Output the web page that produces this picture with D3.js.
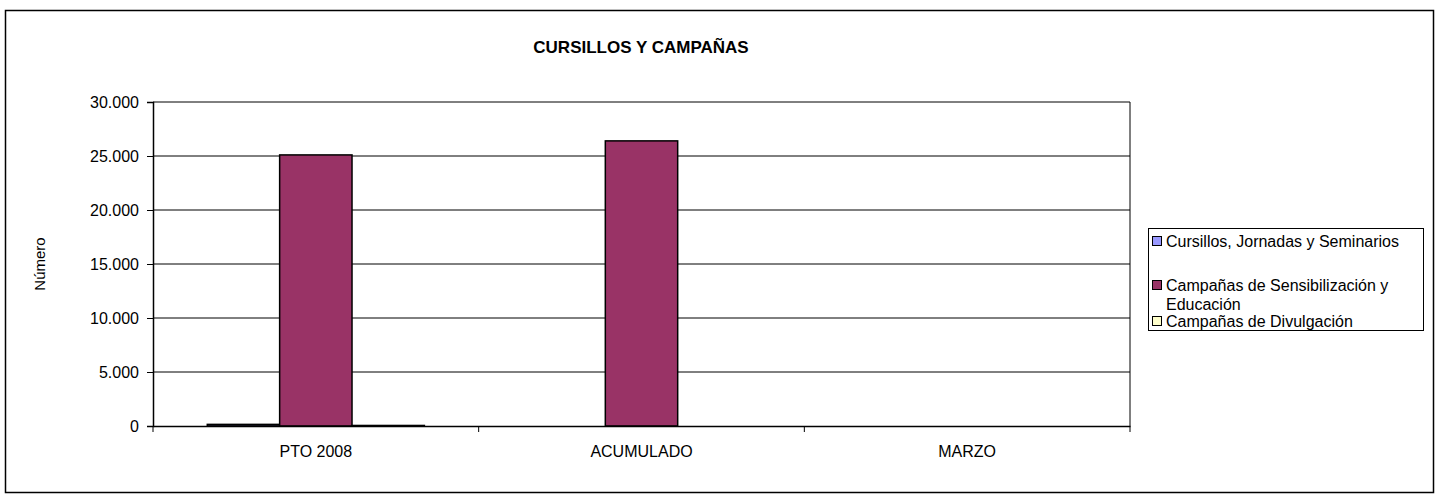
<!DOCTYPE html>
<html>
<head>
<meta charset="utf-8">
<script src="https://cdn.jsdelivr.net/npm/d3@7"></script>
<style>
  body { margin: 0; background: #fff; }
  svg { font-family: "Liberation Sans", Arial, sans-serif; }
</style>
</head>
<body>
<svg id="chart" width="1440" height="502"></svg>
<script>
const categories = ["PTO 2008", "ACUMULADO", "MARZO"];
const seriesNames = [
  "Cursillos, Jornadas y Seminarios",
  "Campañas de Sensibilización y Educación",
  "Campañas de Divulgación"
];
const cursillos = [150, 0, 0];
const sensibilizacion = [25100, 26400, 0];
const divulgacion = [50, 0, 0];
const seriesColors = ["#9999FF", "#993366", "#FFFFCC"];
const yTicks = [0, 5000, 10000, 15000, 20000, 25000, 30000];

const svg = d3.select("#chart");
const margin = { left: 153, top: 102, right: 1130, bottom: 426 };

// outer frame
svg.append("rect")
  .attr("x", 5.5).attr("y", 10.5)
  .attr("width", 1428).attr("height", 482)
  .attr("fill", "#fff").attr("stroke", "#000").attr("stroke-width", 1.5);

svg.append("text")
  .attr("x", 641).attr("y", 53)
  .attr("text-anchor", "middle")
  .attr("font-size", 17).attr("font-weight", "bold")
  .text("CURSILLOS Y CAMPAÑAS");

const x = d3.scaleBand().domain(categories).range([margin.left, margin.right]);
const inner = d3.scaleBand().domain(d3.range(3))
  .range([0, x.bandwidth()]).paddingOuter(0.75);
const y = d3.scaleLinear().domain([0, 30000]).range([margin.bottom, margin.top]);

// gridlines
svg.append("g").selectAll("line")
  .data(yTicks.slice(1))
  .join("line")
  .attr("x1", margin.left).attr("x2", margin.right)
  .attr("y1", d => y(d)).attr("y2", d => y(d))
  .attr("stroke", "#000").attr("stroke-width", 1);

svg.append("line")
  .attr("x1", margin.right).attr("x2", margin.right)
  .attr("y1", margin.top).attr("y2", margin.bottom)
  .attr("stroke", "#000");

// bars
const data = [cursillos, sensibilizacion, divulgacion];
categories.forEach((c, ci) => {
  data.forEach((vals, si) => {
    const v = vals[ci];
    svg.append("rect")
      .attr("x", x(c) + inner(si))
      .attr("y", y(v))
      .attr("width", inner.bandwidth())
      .attr("height", margin.bottom - y(v))
      .attr("fill", seriesColors[si])
      .attr("stroke", "#000").attr("stroke-width", 1.5);
  });
});

// y axis
const yAxis = svg.append("g")
  .attr("transform", `translate(${margin.left},0)`)
  .call(d3.axisLeft(y).tickValues(yTicks).tickSize(6).tickPadding(8)
    .tickFormat(d => d3.format(",")(d).replace(/,/g, ".")));
yAxis.selectAll("text").attr("font-size", 16).attr("fill", "#000")
  .attr("font-family", "Liberation Sans, Arial, sans-serif");
yAxis.selectAll("line").attr("stroke", "#000");
yAxis.select(".domain").attr("stroke", "#000").attr("stroke-width", 1.5);

// x axis
const xAxis = svg.append("g")
  .attr("transform", `translate(0,${margin.bottom})`)
  .call(d3.axisBottom(x).tickSize(0).tickPadding(20));
xAxis.selectAll("text").attr("font-size", 16).attr("fill", "#000")
  .attr("font-family", "Liberation Sans, Arial, sans-serif");
xAxis.select(".domain").attr("stroke", "#000").attr("stroke-width", 1.5);
xAxis.selectAll(".sep")
  .data([margin.left, ...categories.map(c => x(c) + x.bandwidth())])
  .join("line")
  .attr("class", "sep")
  .attr("x1", d => d).attr("x2", d => d)
  .attr("y1", 0).attr("y2", 6)
  .attr("stroke", "#000");

svg.append("text")
  .attr("transform", "translate(45,264) rotate(-90)")
  .attr("text-anchor", "middle")
  .attr("font-size", 15)
  .text("Número");

// legend
const lg = svg.append("g");
lg.append("rect")
  .attr("x", 1148.5).attr("y", 228.5)
  .attr("width", 275).attr("height", 102)
  .attr("fill", "#fff").attr("stroke", "#000");
const legendRows = [
  { lines: [seriesNames[0]], y: 241 },
  { lines: ["Campañas de Sensibilización y", "Educación"], y: 285 },
  { lines: [seriesNames[2]], y: 321 }
];
legendRows.forEach((r, i) => {
  lg.append("rect")
    .attr("x", 1152.5).attr("y", r.y - 4.5)
    .attr("width", 9).attr("height", 9)
    .attr("fill", seriesColors[i]).attr("stroke", "#000");
  r.lines.forEach((t, li) => {
    lg.append("text")
      .attr("x", 1166).attr("y", r.y + 6 + li * 18.5)
      .attr("font-size", 16)
      .text(t);
  });
});
</script>
</body>
</html>
